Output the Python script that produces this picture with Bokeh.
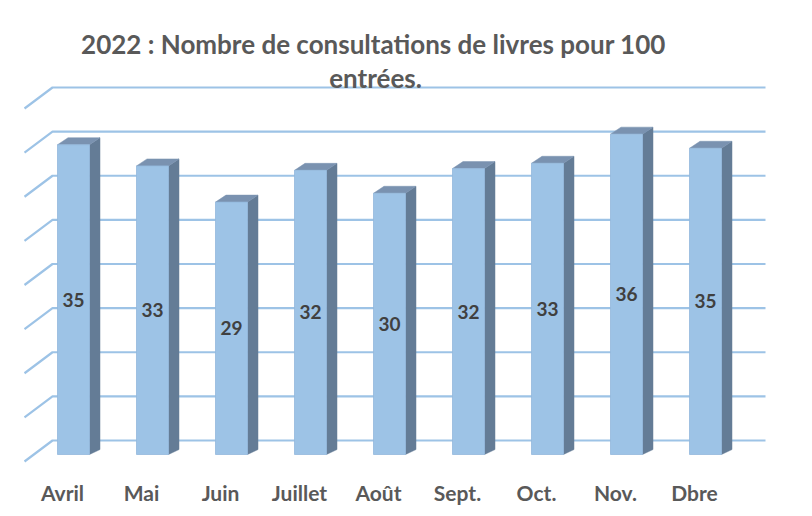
from bokeh.plotting import figure
from bokeh.models import Range1d, LinearAxis, FixedTicker, ColumnDataSource, Label
from bokeh.embed import file_html
from bokeh.resources import INLINE
from bokeh.core.properties import value

# ---- data ----
months = ["Avril", "Mai", "Juin", "Juillet", "Août", "Sept.", "Oct.", "Nov.", "Dbre"]
consultations = [35.1, 32.7, 28.6, 32.2, 29.6, 32.4, 33.0, 36.3, 34.7]
value_labels = ["35", "33", "29", "32", "30", "32", "33", "36", "35"]
grid_values = [0, 5, 10, 15, 20, 25, 30, 35, 40]
title_lines = ["2022 : Nombre de consultations de livres pour 100", "entrées."]

# ---- layout constants (pixels) ----
W, H = 812, 516
FRAME_BOTTOM = 468
PX_X = 79.0        # pixels per category
X0_PX = 73.0       # pixel x of first category
PX_Y = 8.825       # pixels per value unit
WALL0_PX = 440.0   # pixel y of back-wall zero
FRONT0_PX = 454.0  # pixel y of bar front base

FRONT = "#9DC3E6"
SIDE = "#647C96"
TOP = "#7A92B0"
GRID = "#9DC3E6"

x_start = -X0_PX / PX_X
x_end = (W - X0_PX) / PX_X
y_start = -(FRAME_BOTTOM - WALL0_PX) / PX_Y
y_end = WALL0_PX / PX_Y

p = figure(width=W, height=H, output_backend="svg", toolbar_location=None,
           x_range=Range1d(x_start, x_end), y_range=Range1d(y_start, y_end),
           x_axis_location=None, y_axis_location=None, title=None)
p.min_border = 0
p.min_border_bottom = H - FRAME_BOTTOM
p.outline_line_color = None
p.xgrid.visible = False
p.ygrid.visible = False
p.background_fill_color = "white"
p.border_fill_color = "white"

# ---- back wall gridlines with left perspective wall ----
wall_left = (52 - X0_PX) / PX_X
diag_left = (24 - X0_PX) / PX_X
wall_right = (765 - X0_PX) / PX_X
diag_dy = 21 / PX_Y
gxs = [[diag_left, wall_left, wall_right] for g in grid_values]
gys = [[g - diag_dy, g, g] for g in grid_values]
p.multi_line(xs=gxs, ys=gys, line_color=GRID, line_width=2.2)

# ---- 3D bars ----
hw = 16 / PX_X
dx = 10.5 / PX_X
dyt = 7 / PX_Y
dyb = 5 / PX_Y
base = -(FRONT0_PX - WALL0_PX) / PX_Y
idx = list(range(len(months)))
tops = [base + v for v in consultations]

side_xs = [[i + hw, i + hw + dx, i + hw + dx, i + hw] for i in idx]
side_ys = [[base, base + dyb, t + dyt, t] for t in tops]
top_xs = [[i - hw, i + hw, i + hw + dx, i - hw + dx] for i in idx]
top_ys = [[t, t, t + dyt, t + dyt] for t in tops]

p.patches(xs=side_xs, ys=side_ys, fill_color=SIDE, line_color=SIDE, line_width=0.5)
p.patches(xs=top_xs, ys=top_ys, fill_color=TOP, line_color=TOP, line_width=0.5)
src = ColumnDataSource(dict(x=idx, left=[i - hw for i in idx], right=[i + hw for i in idx],
                            top=tops, bottom=[base] * len(idx),
                            ymid=[base + v / 2 for v in consultations], lab=value_labels))
p.quad(left="left", right="right", top="top", bottom="bottom", source=src,
       fill_color=FRONT, line_color="#93B8DC", line_width=0.8)

p.text(x="x", y="ymid", text="lab", source=src, text_align="center", text_baseline="middle",
       text_font=value("Lato"), text_font_style="bold", text_font_size="19px",
       text_color="#404040")

# ---- category axis (shifted for perspective) ----
shift = 11 / PX_X
p.extra_x_ranges = {"labels": Range1d(x_start + shift, x_end + shift)}
ax = LinearAxis(x_range_name="labels", ticker=FixedTicker(ticks=idx),
                major_label_overrides={i: m for i, m in zip(idx, months)})
ax.axis_line_color = None
ax.major_tick_line_color = None
ax.minor_tick_line_color = None
ax.major_tick_out = 0
ax.major_tick_in = 0
ax.major_label_standoff = 11
ax.major_label_text_font = "Lato"
ax.major_label_text_font_style = "bold"
ax.major_label_text_font_size = "21px"
ax.major_label_text_color = "#595959"
p.add_layout(ax, "below")

# ---- title ----
for line, (cx, cy) in zip(title_lines, [(373, 43), (375, 77)]):
    p.add_layout(Label(x=(cx - X0_PX) / PX_X, y=(WALL0_PX - cy) / PX_Y, text=line,
                       text_align="center", text_baseline="middle",
                       text_font="Lato", text_font_style="bold",
                       text_font_size="26px", text_color="#595959"))

open("out.html", "w").write(file_html(p, INLINE))
